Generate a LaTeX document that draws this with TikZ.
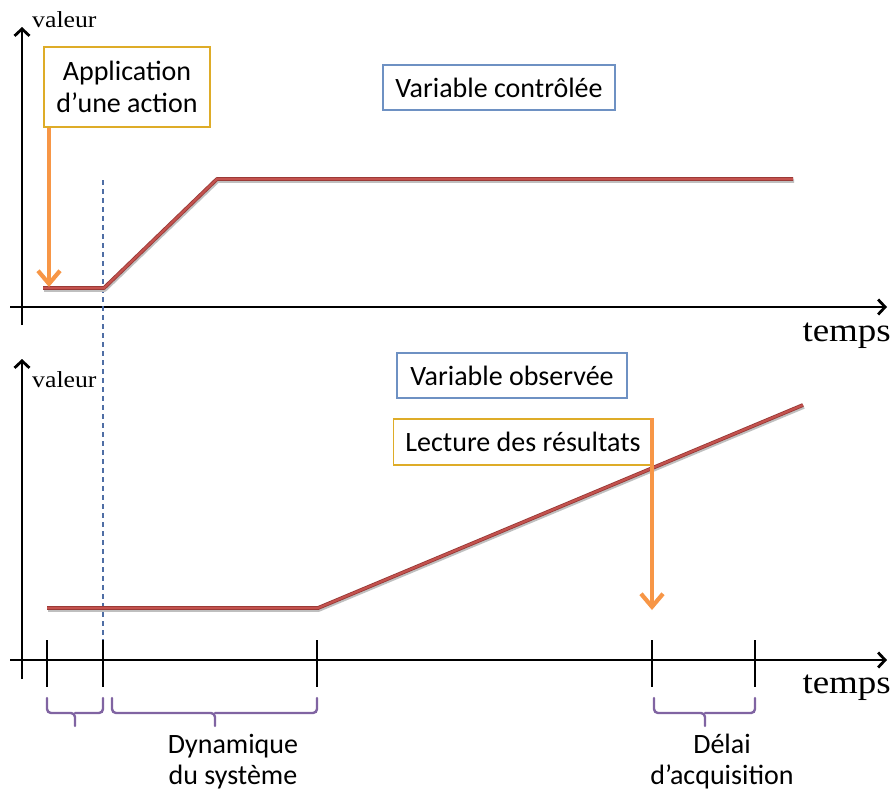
\documentclass[tikz,border=0pt]{standalone}
\usepackage{fontspec}
\setmainfont{Carlito}
\newfontfamily\axisfont[FakeStretch=1.12]{Liberation Serif}
\usetikzlibrary{arrows.meta}
\definecolor{curve}{RGB}{196,82,78}
\definecolor{curveedge}{RGB}{150,55,52}
\definecolor{action}{RGB}{247,150,70}
\definecolor{goldline}{RGB}{222,172,40}
\definecolor{blueline}{RGB}{110,145,195}
\definecolor{bracecol}{RGB}{128,100,162}
\definecolor{dashcol}{RGB}{79,110,165}
\tikzset{
  axis/.style={line width=2.8pt,black,-{Straight Barb[length=7pt,width=15pt,line width=2.8pt]}},
  tick/.style={line width=2.6pt,black},
  curveshadow/.style={line width=3.5pt,black!25,line join=round,transform canvas={shift={(1pt,-2pt)}}},
  curvepath/.style={line width=3.8pt,curveedge,line join=round},
  curvefill/.style={line width=2.2pt,curve,line join=round},
  actarrow/.style={line width=4.2pt,action,-{Straight Barb[length=13pt,width=22pt,line width=4.2pt]}},
  goldbox/.style={draw=goldline,line width=1.3pt,fill=white,align=center,
    font=\fontsize{28}{32}\selectfont,inner sep=0pt},
  bluebox/.style={draw=blueline,line width=1.3pt,fill=white,align=center,
    font=\fontsize{28}{32}\selectfont,inner sep=0pt},
  axlabel/.style={font=\axisfont\fontsize{23}{26}\selectfont,inner sep=0pt},
  timelabel/.style={font=\axisfont\fontsize{33}{36}\selectfont,inner sep=0pt},
  bracestyle/.style={line width=2.4pt,bracecol,rounded corners=4pt,line cap=round},
  caption/.style={align=center,font=\fontsize{28}{31}\selectfont,inner sep=0pt},
}
\begin{document}
\begin{tikzpicture}[x=1pt,y=-1pt]
\useasboundingbox[fill=white] (0,0) rectangle (895,793);

% ---------- upper graph: controlled variable ----------
\coordinate (yA0) at (22,325);
\coordinate (yA1) at (22,27);
\coordinate (xA0) at (10,307);
\coordinate (xA1) at (887,307);
\draw[axis] (yA0) -- (yA1);
\draw[axis] (xA0) -- (xA1);
\node[axlabel,anchor=west] (valA) at (32,20) {valeur};
\node[timelabel,anchor=east] (tA) at (891,336) {temps};

% time of the action (dashed marker through both graphs)
\coordinate (dTop) at (103,180);
\coordinate (dBot) at (103,642);
\draw[dashcol,line width=1.1pt,dash pattern=on 5pt off 4pt] (dTop) -- (dBot);

% controlled variable curve
\coordinate (cA) at (43,288);
\coordinate (cB) at (104,288);
\coordinate (cC) at (217,179);
\coordinate (cD) at (793,179);
\draw[curveshadow] (cA) -- (cB) -- (cC) -- (cD);
\draw[curvepath] (cA) -- (cB) -- (cC) -- (cD);
\draw[curvefill] (cA) -- (cB) -- (cC) -- (cD);

\node[goldbox,minimum width=166pt,minimum height=80pt] (app) at (127,87)
  {Application\\d’une action};
\node[bluebox,minimum width=232pt,minimum height=45pt] (ctrl) at (499,87.5)
  {Variable contrôlée};

\coordinate (appTip) at (49,287);
\draw[actarrow] (app.south -| appTip) -- (appTip);

% ---------- lower graph: observed variable ----------
\coordinate (yB0) at (22,679);
\coordinate (yB1) at (22,359);
\coordinate (xB0) at (10,660);
\coordinate (xB1) at (887,660);
\draw[axis] (yB0) -- (yB1);
\draw[axis] (xB0) -- (xB1);
\node[axlabel,anchor=west] (valB) at (32,380) {valeur};
\node[timelabel,anchor=east] (tB) at (891,688) {temps};

% ticks on the time axis
\foreach \n/\x in {t1/47,t2/103,t3/317,t4/652,t5/755}{
  \coordinate (\n) at (\x,660);
  \draw[tick] (\x,640) -- (\x,687);
}

% observed variable curve
\coordinate (oA) at (47,608);
\coordinate (oB) at (318,608);
\coordinate (oC) at (803,405);
\draw[curveshadow] (oA) -- (oB) -- (oC);
\draw[curvepath] (oA) -- (oB) -- (oC);
\draw[curvefill] (oA) -- (oB) -- (oC);

\node[bluebox,minimum width=230pt,minimum height=45pt] (obs) at (512,375.5)
  {Variable observée};
\node[goldbox,minimum width=259pt,minimum height=46pt] (read) at (523,442)
  {Lecture des résultats};

\coordinate (readTip) at (652,610);
\draw[actarrow] (read.north -| readTip) -- (readTip);

% braces under the time axis
\draw[bracestyle] (47,698) -- (47,713) -- (75,713) -- (75,726);
\draw[bracestyle] (75,713) -- (103,713) -- (103,698);
\draw[bracestyle] (112,698) -- (112,713) -- (215,713) -- (215,726);
\draw[bracestyle] (215,713) -- (317,713) -- (317,698);
\draw[bracestyle] (654,698) -- (654,713) -- (705,713) -- (705,726);
\draw[bracestyle] (705,713) -- (755,713) -- (755,698);

\node[caption] (dyn) at (233,762) {Dynamique\\du système};
\node[caption] (acq) at (722,762) {Délai\\d’acquisition};
\end{tikzpicture}
\end{document}
